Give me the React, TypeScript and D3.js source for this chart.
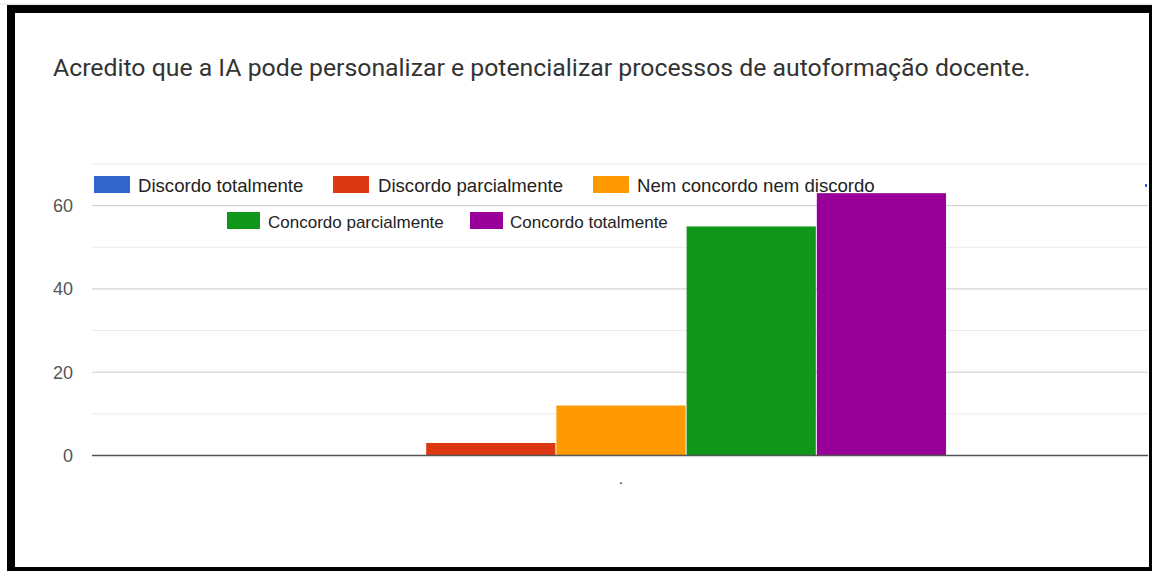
import React from "react";
import * as d3 from "d3";

const title = "Acredito que a IA pode personalizar e potencializar processos de autoformação docente.";
const categories = ["."];
const seriesNames = [
  "Discordo totalmente",
  "Discordo parcialmente",
  "Nem concordo nem discordo",
  "Concordo parcialmente",
  "Concordo totalmente",
];
const seriesValues = [0, 3, 12, 55, 63];
const seriesColors = ["#3366cc", "#dc3912", "#ff9900", "#109618", "#990099"];
const yTicks = [0, 20, 40, 60];
const yMinorTicks = [10, 30, 50, 70];

const W = 1152;
const H = 571;

export default function App() {
  const plotLeft = 92;
  const plotRight = 1150;
  const y = d3.scaleLinear().domain([0, 70]).range([455.5, 164]);
  const x0 = d3.scaleBand<string>().domain(categories).range([plotLeft, plotRight]).paddingInner(0).paddingOuter(0.3125);
  const x1 = d3.scaleBand<string>().domain(seriesNames).range([0, x0.bandwidth()]).padding(0);

  const legendRows = [
    [
      { i: 0, sx: 94, tx: 138 },
      { i: 1, sx: 333, tx: 378 },
      { i: 2, sx: 593, tx: 637 },
    ],
    [
      { i: 3, sx: 227, tx: 268 },
      { i: 4, sx: 470, tx: 510 },
    ],
  ];
  const legendY = [185, 221];
  const legendFont = [18.6, 17];
  const swatchW = [36, 33];

  return (
    <svg width={W} height={H} style={{ position: "absolute", left: 0, top: 0, background: "#fff" }}>
      <rect x={0} y={0} width={W} height={H} fill="#fff" />
      <line x1={0} x2={W} y1={4} y2={4} stroke="#ddd" strokeWidth={1} />
      {/* frame */}
      <rect x={11} y={9} width={1142} height={562} fill="none" stroke="#000" strokeWidth={8} />
      <text x={53} y={76} fontFamily="Roboto, 'Noto Sans', sans-serif" fontSize={24.8} fill="#333">
        {title}
      </text>
      {/* gridlines */}
      {yMinorTicks.map((t) => (
        <line key={"m" + t} x1={plotLeft} x2={1148} y1={y(t)} y2={y(t)} stroke="#ebebeb" strokeWidth={1} />
      ))}
      {yTicks.filter((t) => t !== 0).map((t) => (
        <line key={"g" + t} x1={plotLeft} x2={1148} y1={y(t)} y2={y(t)} stroke="#cccccc" strokeWidth={1} />
      ))}
      {yTicks.map((t) => (
        <text key={"t" + t} x={73} y={y(t) + 6.5} textAnchor="end" fontFamily="Arial, 'Liberation Sans', sans-serif" fontSize={18} fill="#555">
          {t}
        </text>
      ))}
      {/* bars */}
      {categories.map((c) => (
        <g key={c} transform={`translate(${x0(c)},0)`}>
          {seriesNames.map((s, i) => {
            const v = seriesValues[i];
            if (v <= 0) return null;
            return (
              <rect
                key={s}
                x={(x1(s) as number) + 0.5}
                y={y(v)}
                width={x1.bandwidth() - 1}
                height={y(0) - y(v)}
                fill={seriesColors[i]}
              />
            );
          })}
          <text x={x0.bandwidth() / 2} y={484} textAnchor="middle" fontFamily="Arial, sans-serif" fontSize={14} fill="#222">
            {c}
          </text>
        </g>
      ))}
      <line x1={plotLeft} x2={1148} y1={y(0)} y2={y(0)} stroke="#555" strokeWidth={1.5} />
      {/* legend */}
      {legendRows.map((row, r) =>
        row.map((it) => (
          <g key={it.i}>
            <rect x={it.sx} y={legendY[r] - 9} width={swatchW[r]} height={17} fill={seriesColors[it.i]} />
            <text x={it.tx} y={legendY[r] + 6.5} fontFamily="Arial, 'Liberation Sans', sans-serif" fontSize={legendFont[r]} fill="#222">
              {seriesNames[it.i]}
            </text>
          </g>
        ))
      )}
      <rect x={1145} y={184} width={2} height={3} fill="#3366cc" />
    </svg>
  );
}
